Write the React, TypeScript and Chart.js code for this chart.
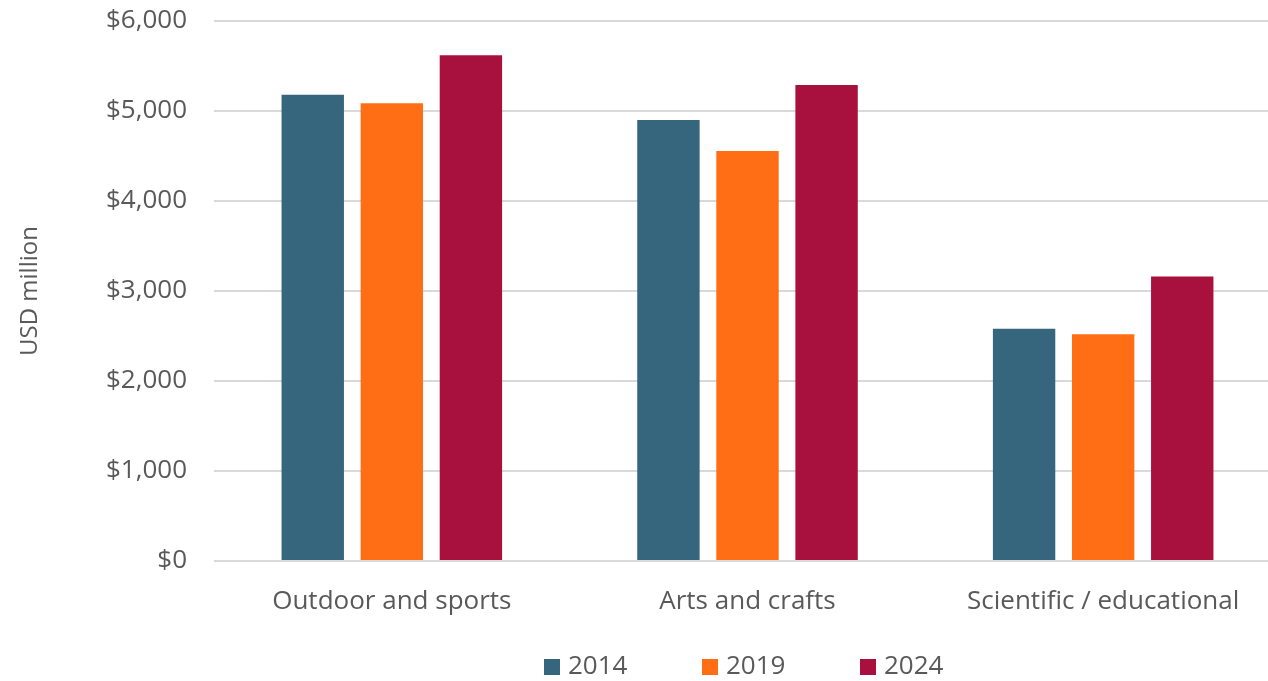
import React, { useEffect, useRef } from "react";
import { Chart, registerables } from "chart.js";

Chart.register(...registerables);

const categories = ["Outdoor and sports", "Arts and crafts", "Scientific / educational"];
const seriesLabels = ["2014", "2019", "2024"];
const values2014 = [5180, 4900, 2580];
const values2019 = [5085, 4555, 2520];
const values2024 = [5620, 5290, 3160];
const seriesColors = ["#36667E", "#FF6D14", "#A8113D"];
const yTicks = [0, 1000, 2000, 3000, 4000, 5000, 6000];

const FONT = "'Open Sans', sans-serif";
const TEXT = "#595959";

const legendPlugin = {
  id: "customLegend",
  afterDraw(chart: any) {
    const ctx = chart.ctx;
    const ds = chart.data.datasets;
    ctx.save();
    ctx.font = `26px ${FONT}`;
    ctx.textBaseline = "middle";
    ctx.textAlign = "left";
    const y = 667;
    const starts = [544, 702, 860];
    ds.forEach((d: any, i: number) => {
      const x = starts[i];
      ctx.fillStyle = d.backgroundColor;
      ctx.fillRect(x, y - 8, 16, 16);
      ctx.fillStyle = TEXT;
      ctx.fillText(d.label, x + 24, y);
    });
    ctx.restore();
  },
};

export default function App() {
  const ref = useRef<HTMLCanvasElement>(null);
  useEffect(() => {
    document.body.style.margin = "0";
    const data = [values2014, values2019, values2024];
    const chart = new Chart(ref.current!, {
      type: "bar",
      data: {
        labels: categories,
        datasets: seriesLabels.map((l, i) => ({
          label: l,
          data: data[i],
          backgroundColor: seriesColors[i],
          borderWidth: 0,
          categoryPercentage: 0.667,
          barPercentage: 0.789,
        })),
      },
      options: {
        animation: false,
        responsive: false,
        maintainAspectRatio: false,
        layout: { padding: { top: 21, right: 1, bottom: 50, left: 0 } },
        plugins: { legend: { display: false }, tooltip: { enabled: false } },
        scales: {
          x: {
            grid: { display: false },
            border: { display: false },
            ticks: { color: TEXT, font: { family: FONT, size: 26 }, padding: 17 },
            afterFit: (s: any) => {
              s.height = 70;
            },
          },
          y: {
            min: 0,
            max: 6000,
            afterBuildTicks: (s: any) => {
              s.ticks = yTicks.map((v) => ({ value: v }));
            },
            grid: { color: "#D9D9D9", lineWidth: 2, drawTicks: true, tickLength: 27, tickColor: "rgba(0,0,0,0)" },
            border: { display: false },
            ticks: {
              color: TEXT,
              font: { family: FONT, size: 26 },
              padding: 0,
              callback: (v: any) => "$" + Number(v).toLocaleString("en-US"),
            },
            title: {
              display: true,
              text: "USD million",
              color: TEXT,
              font: { family: FONT, size: 24 },
              padding: { top: 16, bottom: 0 },
            },
            afterFit: (s: any) => {
              s.width = 214;
            },
          },
        },
      },
      plugins: [legendPlugin],
    });
    return () => chart.destroy();
  }, []);
  return (
    <div style={{ width: 1268, height: 681, overflow: "hidden" }}>
      <canvas ref={ref} width={1282} height={681} style={{ display: "block" }} />
    </div>
  );
}
